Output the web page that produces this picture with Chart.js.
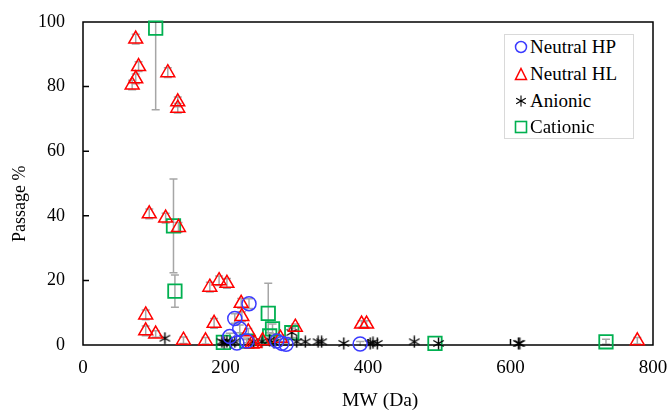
<!DOCTYPE html>
<html>
<head>
<meta charset="utf-8">
<script src="https://cdn.jsdelivr.net/npm/chart.js@4.4.1/dist/chart.umd.min.js"></script>
<style>
  body { margin: 0; background: #fff; }
  #wrap { position: relative; width: 669px; height: 414px; }
  #legend {
    position: absolute; left: 504px; top: 34px; width: 128px; height: 103px;
    border: 1px solid #d9d9d9; background: #fff;
    font-family: "Liberation Serif", "Times New Roman", serif; font-size: 19px; color: #000;
  }
  #legend .row { position: absolute; left: 0; height: 26px; line-height: 26px; white-space: nowrap; }
  #legend svg { position: absolute; left: 9px; top: 6px; }
  #legend span { position: absolute; left: 25px; }
</style>
</head>
<body>
<div id="wrap">
  <canvas id="chart" width="669" height="414"></canvas>
  <div id="legend"></div>
</div>
<script>
// Neutral HP (circles)
const hpX = [233, 213, 220, 206, 216, 230, 272, 279, 285, 389];
const hpY = [12.8, 8.2, 5.0, 2.6, 0.6, 1.2, 1.2, 0.5, 0.2, 0.3];
const hpErr = [1.5, 1.5, 1.2, 1, 0.5, 0.5, 0.5, 0.5, 0.3, 0.8];

// Neutral HL (triangles)
const hlX = [74, 78, 74, 69, 119, 133, 133, 93, 116, 134, 88, 88, 102, 141, 172, 178, 191, 202, 184, 222, 223, 232, 237, 252, 241, 298, 277, 391, 398, 778];
const hlY = [94.7, 86.2, 82.4, 80.5, 84.3, 75.3, 73.3, 40.6, 39.3, 36.4, 9.3, 4.4, 3.4, 1.5, 1.3, 17.9, 19.9, 19.1, 6.7, 12.9, 8.8, 4.1, 0.3, 1.3, 0.5, 5.5, 2.1, 6.5, 6.5, 1.3];
const hlErr = [1.5, 1.5, 1.5, 1.5, 1.5, 1.5, 1.5, 1.5, 1.5, 1.5, 1.5, 1.5, 1, 1, 1, 1.5, 1.5, 1.5, 1.5, 1.5, 1.5, 1, 0.5, 0.5, 0.5, 1, 1, 1, 1, 1];

// Anionic (asterisks)
const anX = [115, 195, 198, 202, 208, 213, 239, 251, 262, 268, 293, 300, 312, 330, 335, 366, 403, 407, 413, 465, 499, 611, 613];
const anY = [2.1, 1.0, 0.8, 1.0, 0.7, 1.0, 1.0, 1.0, 1.5, 0.8, 3.9, 1.0, 1.0, 1.0, 1.0, 0.5, 0.5, 0.7, 0.5, 1.0, 0.5, 0.5, 0.5];

// Cationic (squares)
const caX = [102, 127, 129, 197, 230, 260, 262, 266, 293, 494, 734];
const caY = [98.1, 36.9, 16.7, 0.8, 1.2, 9.8, 2.8, 5.0, 3.8, 0.5, 1.0];
const caErr = [25.3, 14.5, 5, 0.5, 1, 9.3, 1, 1.5, 1.5, 0, 0.8];

const xTicks = [0, 200, 400, 600, 800];
const yTicks = [0, 20, 40, 60, 80, 100];

const toPoints = (xs, ys, errs) => xs.map((x, i) => ({ x: x, y: ys[i], err: errs ? errs[i] : 0 }));

// asterisk marker like the spreadsheet "*" symbol
function makeStar(size) {
    const c = document.createElement('canvas');
    c.width = size; c.height = size;
    const g = c.getContext('2d');
    const m = size / 2, r = size / 2 - 0.5;
    g.strokeStyle = '#000';
    g.lineWidth = 1.4;
    g.beginPath();
    g.moveTo(m, m - r); g.lineTo(m, m + r);
    const dx = r * Math.cos(Math.PI / 6), dy = r * Math.sin(Math.PI / 6);
    g.moveTo(m - dx, m - dy); g.lineTo(m + dx, m + dy);
    g.moveTo(m - dx, m + dy); g.lineTo(m + dx, m - dy);
    g.stroke();
    return c;
}
const starImg = makeStar(13);

const serif = '"Liberation Serif", "Times New Roman", serif';

const errorBars = {
    id: 'errorBars',
    beforeDatasetsDraw(chart) {
        const { ctx, chartArea, scales } = chart;
        ctx.save();
        ctx.beginPath();
        ctx.rect(chartArea.left, chartArea.top - 1, chartArea.width, chartArea.height + 2);
        ctx.clip();
        ctx.strokeStyle = '#a6a6a6';
        ctx.lineWidth = 1.5;
        chart.data.datasets.forEach(ds => {
            ds.data.forEach(p => {
                if (!p.err) return;
                const x = scales.x.getPixelForValue(p.x);
                const y1 = scales.y.getPixelForValue(p.y - p.err);
                const y2 = scales.y.getPixelForValue(p.y + p.err);
                ctx.beginPath();
                ctx.moveTo(x, y1); ctx.lineTo(x, y2);
                ctx.moveTo(x - 4, y1); ctx.lineTo(x + 4, y1);
                ctx.moveTo(x - 4, y2); ctx.lineTo(x + 4, y2);
                ctx.stroke();
            });
        });
        ctx.restore();

        // frame and inside tick marks
        ctx.save();
        ctx.strokeStyle = '#000';
        ctx.lineWidth = 1.5;
        ctx.strokeRect(chartArea.left, chartArea.top, chartArea.width, chartArea.height);
        ctx.beginPath();
        yTicks.slice(1, -1).forEach(v => {
            const y = scales.y.getPixelForValue(v);
            ctx.moveTo(chartArea.left, y); ctx.lineTo(chartArea.left + 6, y);
        });
        xTicks.slice(1, -1).forEach(v => {
            const x = scales.x.getPixelForValue(v);
            ctx.moveTo(x, chartArea.bottom); ctx.lineTo(x, chartArea.bottom - 6);
        });
        ctx.stroke();
        ctx.restore();
    }
};

new Chart(document.getElementById('chart'), {
    type: 'scatter',
    data: {
        datasets: [
            { label: 'Neutral HP', data: toPoints(hpX, hpY, hpErr), pointStyle: 'circle', pointRadius: 7,
              borderColor: '#3b3bff', backgroundColor: 'transparent', pointBorderWidth: 1.5, clip: false },
            { label: 'Neutral HL', data: toPoints(hlX, hlY, hlErr), pointStyle: 'triangle', pointRadius: 8,
              borderColor: '#ff0000', backgroundColor: 'transparent', pointBorderWidth: 1.5, clip: false },
            { label: 'Anionic', data: toPoints(anX, anY), pointStyle: starImg, pointRadius: 6,
              borderColor: '#000', backgroundColor: '#000', clip: false },
            { label: 'Cationic', data: toPoints(caX, caY, caErr), pointStyle: 'rect', pointRadius: 9.5,
              borderColor: '#00b050', backgroundColor: 'transparent', pointBorderWidth: 1.8, clip: false }
        ]
    },
    options: {
        responsive: false,
        animation: false,
        layout: { padding: { top: 22, right: 16, left: 0, bottom: 0 } },
        plugins: {
            legend: { display: false },
            tooltip: { enabled: false }
        },
        scales: {
            x: {
                type: 'linear', min: 0, max: 800,
                afterBuildTicks: s => { s.ticks = xTicks.map(v => ({ value: v })); },
                afterFit: s => { s.height = 69; },
                grid: { display: false, drawTicks: true, tickLength: 12 },
                border: { display: false },
                ticks: { padding: 0, color: '#000', font: { family: serif, size: 19 } },
                // leading spaces push the title a little right, as in the original
                title: { display: true, text: '     MW (Da)', color: '#000', padding: { top: 0, bottom: 1 },
                         font: { family: serif, size: 19.5 } }
            },
            y: {
                type: 'linear', min: 0, max: 100,
                afterBuildTicks: s => { s.ticks = yTicks.map(v => ({ value: v })); },
                afterFit: s => { s.width = 83; },
                grid: { display: false, drawTicks: true, tickLength: 18 },
                border: { display: false },
                ticks: { padding: 0, color: '#000', font: { family: serif, size: 18 } },
                // trailing spaces push the title a little down
                title: { display: true, text: 'Passage %         ', color: '#000', padding: { top: 9, bottom: 0 },
                         font: { family: serif, size: 18 } }
            }
        }
    },
    plugins: [errorBars]
});

// legend
const legendItems = [
    { name: 'Neutral HP', svg: '<circle cx="7" cy="7" r="5.5" fill="none" stroke="#3b3bff" stroke-width="1.5"/>' },
    { name: 'Neutral HL', svg: '<polygon points="7,1.5 12.5,12.5 1.5,12.5" fill="none" stroke="#ff0000" stroke-width="1.5"/>' },
    { name: 'Anionic', svg: '<path d="M7 1.5V12.5M2.2 4.2L11.8 9.8M2.2 9.8L11.8 4.2" stroke="#000" stroke-width="1.1"/>' },
    { name: 'Cationic', svg: '<rect x="1.5" y="1.5" width="11" height="11" fill="none" stroke="#00b050" stroke-width="1.6"/>' }
];
const legendEl = document.getElementById('legend');
const rowCenters = [12, 39, 66, 92];
legendItems.forEach((item, i) => {
    const row = document.createElement('div');
    row.className = 'row';
    row.style.top = (rowCenters[i] - 13) + 'px';
    row.innerHTML = '<svg width="14" height="14">' + item.svg + '</svg><span>' + item.name + '</span>';
    legendEl.appendChild(row);
});
</script>
</body>
</html>
